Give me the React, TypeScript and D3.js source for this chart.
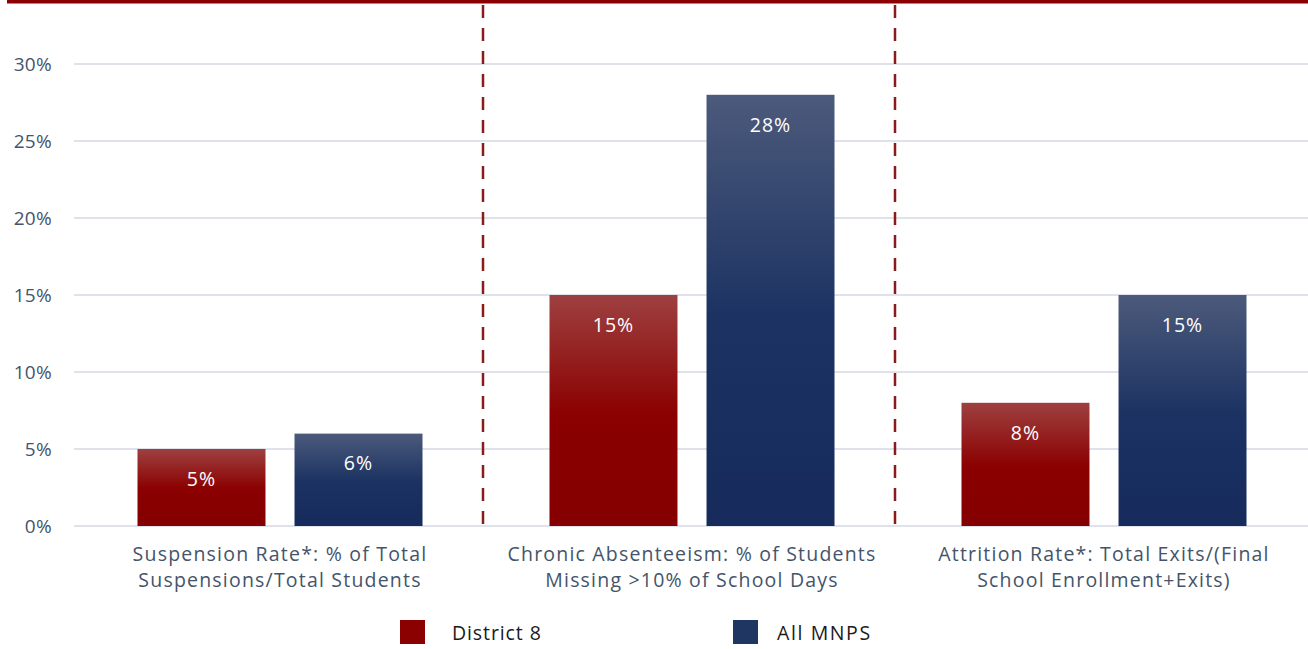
import * as d3 from 'd3';
import { useEffect, useRef } from 'react';

const categories = [
  ['Suspension Rate*: % of Total', 'Suspensions/Total Students'],
  ['Chronic Absenteeism: % of Students', 'Missing >10% of School Days'],
  ['Attrition Rate*: Total Exits/(Final', 'School Enrollment+Exits)'],
];
const seriesNames = ['District 8', 'All MNPS'];
const district8 = [5, 15, 8];
const allMnps = [6, 28, 15];
const yTicks = [0, 5, 10, 15, 20, 25, 30];

const W = 1308;
const H = 649;

const App = () => {
  const ref = useRef<SVGSVGElement | null>(null);

  useEffect(() => {
    if (!ref.current) return;
    const svg = d3.select(ref.current);
    svg.selectAll('*').remove();

    const x = d3.scaleBand<number>().domain([0, 1, 2]).range([74, 1310]);
    const inner = d3
      .scaleBand<number>()
      .domain([0, 1])
      .range([63.5, x.bandwidth() - 63.5])
      .paddingInner(0.185);
    const y = d3.scaleLinear().domain([0, 30]).range([526, 64]);

    // gradients for the bars
    const defs = svg.append('defs');
    const grads = [
      { id: 'gRed', top: '#9e4040', mid: '#8b0000', bot: '#850000' },
      { id: 'gBlue', top: '#4c5a7b', mid: '#1b3262', bot: '#162b5b' },
    ];
    grads.forEach((g) => {
      const lg = defs
        .append('linearGradient')
        .attr('id', g.id)
        .attr('x1', 0)
        .attr('y1', 0)
        .attr('x2', 0)
        .attr('y2', 1);
      lg.append('stop').attr('offset', '0%').attr('stop-color', g.top);
      lg.append('stop').attr('offset', '52%').attr('stop-color', g.mid);
      lg.append('stop').attr('offset', '100%').attr('stop-color', g.bot);
    });

    // top rule
    svg
      .append('rect')
      .attr('x', 7)
      .attr('y', 0)
      .attr('width', W - 7)
      .attr('height', 3.5)
      .attr('fill', '#8b0000');

    // gridlines
    svg
      .append('g')
      .selectAll('line')
      .data(yTicks)
      .enter()
      .append('line')
      .attr('x1', 74)
      .attr('x2', W)
      .attr('y1', (d) => y(d))
      .attr('y2', (d) => y(d))
      .attr('stroke', '#dfe2ea')
      .attr('stroke-width', 2);

    // y labels
    svg
      .append('g')
      .selectAll('text')
      .data(yTicks)
      .enter()
      .append('text')
      .attr('x', 52)
      .attr('y', (d) => y(d))
      .attr('dy', '0.35em')
      .attr('text-anchor', 'end')
      .attr('font-family', 'Open Sans, sans-serif')
      .attr('font-size', 19)
      .attr('letter-spacing', 0.3)
      .attr('fill', '#44546a')
      .text((d) => `${d}%`);

    // dashed dividers
    svg
      .append('g')
      .selectAll('line')
      .data([1, 2])
      .enter()
      .append('line')
      .attr('x1', (d) => (x(d) as number) - 3)
      .attr('x2', (d) => (x(d) as number) - 3)
      .attr('y1', 5)
      .attr('y2', y(0))
      .attr('stroke', '#8b1a1a')
      .attr('stroke-width', 2.5)
      .attr('stroke-dasharray', '13,10');

    const series = [district8, allMnps];
    const fills = ['url(#gRed)', 'url(#gBlue)'];
    series.forEach((vals, s) => {
      const g = svg.append('g');
      g.selectAll('rect')
        .data(vals)
        .enter()
        .append('rect')
        .attr('x', (_d, i) => (x(i) as number) + (inner(s) as number))
        .attr('y', (d) => y(d))
        .attr('width', inner.bandwidth())
        .attr('height', (d) => y(0) - y(d))
        .attr('fill', fills[s]);
      g.selectAll('text')
        .data(vals)
        .enter()
        .append('text')
        .attr('x', (_d, i) => (x(i) as number) + (inner(s) as number) + inner.bandwidth() / 2)
        .attr('y', (d) => y(d) + 30)
        .attr('dy', '0.35em')
        .attr('text-anchor', 'middle')
        .attr('font-family', 'Open Sans, sans-serif')
        .attr('font-size', 19.5)
        .attr('letter-spacing', 1)
        .attr('fill', '#ffffff')
        .text((d) => `${d}%`);
    });

    // category labels
    const cats = svg.append('g');
    categories.forEach((lines, i) => {
      const t = cats
        .append('text')
        .attr('x', (x(i) as number) + x.bandwidth() / 2)
        .attr('text-anchor', 'middle')
        .attr('font-family', 'Open Sans, sans-serif')
        .attr('font-size', 19.5)
        .attr('letter-spacing', 1.2)
        .attr('fill', '#44546a');
      lines.forEach((l, j) => {
        t.append('tspan')
          .attr('x', (x(i) as number) + x.bandwidth() / 2)
          .attr('y', 561 + j * 26)
          .text(l);
      });
    });

    // legend
    const legend = svg.append('g');
    const legX = [400, 733];
    const legTextX = [452, 777];
    const legSpacing = [0.9, 1.6];
    const legColors = ['#8b0000', '#1f3662'];
    seriesNames.forEach((name, i) => {
      legend
        .append('rect')
        .attr('x', legX[i])
        .attr('y', 620)
        .attr('width', 25)
        .attr('height', 24)
        .attr('fill', legColors[i]);
      legend
        .append('text')
        .attr('x', legTextX[i])
        .attr('y', 633)
        .attr('dy', '0.35em')
        .attr('font-family', 'Open Sans, sans-serif')
        .attr('font-size', 19.5)
        .attr('letter-spacing', legSpacing[i])
        .attr('fill', '#1a1a1a')
        .text(name);
    });
  }, []);

  return (
    <svg
      ref={ref}
      width={W}
      height={H}
      style={{ position: 'absolute', left: 0, top: 0, background: '#fff' }}
    />
  );
};

export default App;
